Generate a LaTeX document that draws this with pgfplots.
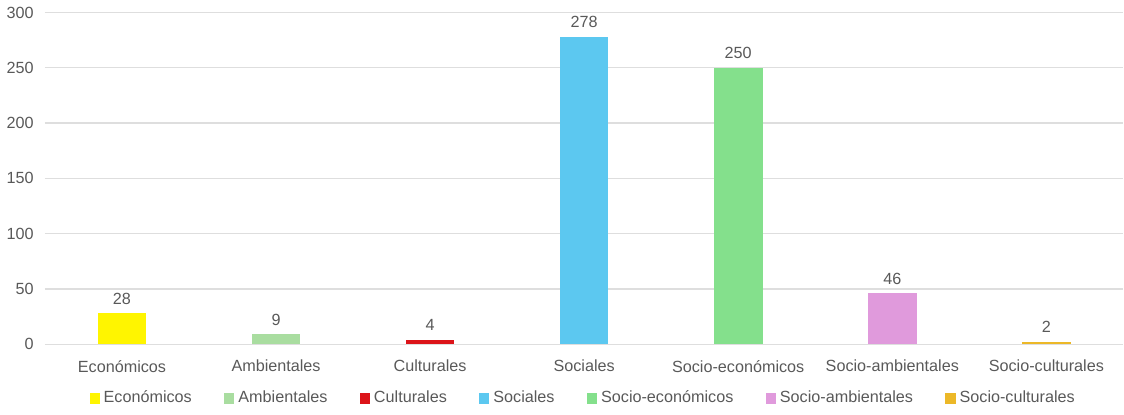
\documentclass[border=0pt]{standalone}
\usepackage{fontspec}
\setmainfont{Liberation Sans}
\usepackage{pgfplots}
\pgfplotsset{compat=1.18}
\definecolor{cEco}{RGB}{255,245,0}
\definecolor{cAmb}{RGB}{169,221,160}
\definecolor{cCul}{RGB}{220,20,25}
\definecolor{cSoc}{RGB}{92,200,240}
\definecolor{cSE}{RGB}{132,224,140}
\definecolor{cSA}{RGB}{224,154,220}
\definecolor{cSC}{RGB}{236,184,40}
\definecolor{txt}{RGB}{89,89,89}
\definecolor{grd}{RGB}{222,222,222}
\begin{document}
\begin{tikzpicture}
\begin{axis}[
  scale only axis,
  width=533pt, height=164pt,
  xmin=-0.5, xmax=6.5,
  ymin=0, ymax=300,
  ytick={0,50,...,300},
  xtick={0,...,6},
  xticklabels={Económicos,Ambientales,Culturales,Sociales,Socio-económicos,Socio-ambientales,Socio-culturales},
  axis line style={draw=none},
  axis x line*=bottom,
  axis y line*=left,
  tick style={draw=none},
  ymajorgrids,
  grid style={grd, line width=0.6pt},
  tick label style={font=\fontsize{8}{10}\selectfont, text=txt},
  yticklabel style={xshift=-2pt},
  /pgf/number format/assume math mode=true,
  ybar, bar width=24pt, bar shift=0pt,
  nodes near coords,
  every node near coord/.append style={font=\fontsize{8}{10}\selectfont, text=txt, yshift=1pt},
  legend style={at={(0.5,-0.115)}, anchor=north, draw=none, legend columns=7,
    font=\fontsize{8}{10}\selectfont, text=txt,
    /tikz/every even column/.append style={column sep=14pt}},
  legend image code/.code={\fill[#1] (0pt,-2.5pt) rectangle (5pt,2.5pt);},
]
\addplot[fill=cEco, draw=none] coordinates {(0,28)};
\addplot[fill=cAmb, draw=none] coordinates {(1,9)};
\addplot[fill=cCul, draw=none] coordinates {(2,4)};
\addplot[fill=cSoc, draw=none] coordinates {(3,278)};
\addplot[fill=cSE, draw=none] coordinates {(4,250)};
\addplot[fill=cSA, draw=none] coordinates {(5,46)};
\addplot[fill=cSC, draw=none] coordinates {(6,2)};
\legend{Económicos,Ambientales,Culturales,Sociales,Socio-económicos,Socio-ambientales,Socio-culturales}
\end{axis}
\end{tikzpicture}
\end{document}
